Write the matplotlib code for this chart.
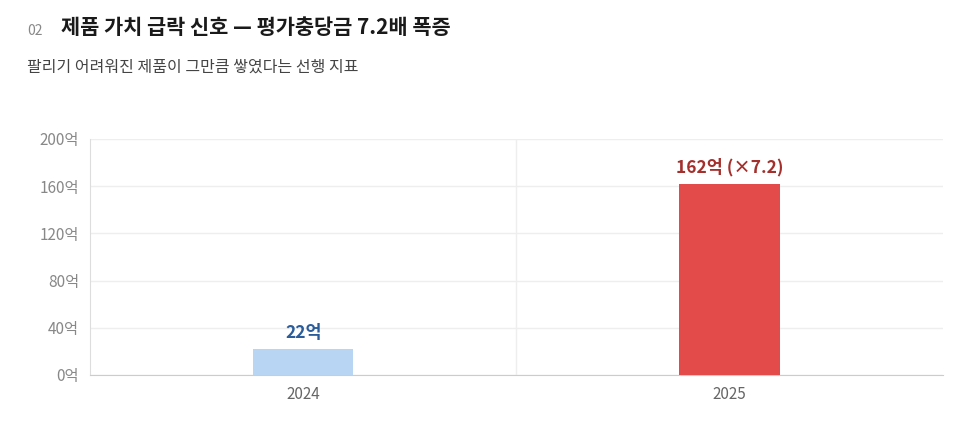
import matplotlib.pyplot as plt
import numpy as np

plt.rcParams['font.family'] = ['Noto Sans CJK KR', 'DejaVu Sans']

# data
years = ['2024', '2025']
values = [22, 162]
labels = ['22억', '162억 (×7.2)']
bar_colors = ['#b8d5f3', '#e24b4a']
label_colors = ['#2b5d9b', '#a3302d']
yticks = [0, 40, 80, 120, 160, 200]

fig = plt.figure(figsize=(9.58, 4.3), dpi=100)
ax = fig.add_axes([0.094, 0.128, 0.890, 0.549])

x = np.arange(len(years))
ax.bar(x, values, width=0.235, color=bar_colors, zorder=3)
for xi, v, t, c in zip(x, values, labels, label_colors):
    ax.text(xi, v + 6, t, ha='center', va='bottom', fontsize=12.5,
            fontweight='bold', color=c)

ax.set_xlim(-0.5, 1.5)
ax.set_ylim(0, 200)
ax.set_xticks(x)
ax.set_xticklabels(years, fontsize=11, color='#666666')
ax.set_yticks(yticks)
ax.set_yticklabels([f'{t}억' for t in yticks], fontsize=11, color='#888888')
ax.tick_params(length=0, pad=8)
ax.grid(axis='y', color='#eeeeee', linewidth=1, zorder=0)
ax.axvline(0.5, color='#eeeeee', linewidth=1, zorder=0)
for s in ['top', 'right']:
    ax.spines[s].set_visible(False)
ax.spines['left'].set_color('#dddddd')
ax.spines['bottom'].set_color('#cccccc')

fig.text(0.028, 0.928, '02', fontsize=10, color='#888888', va='center')
fig.text(0.064, 0.935, '제품 가치 급락 신호 — 평가충당금 7.2배 폭증', fontsize=15,
         fontweight='bold', color='#1a1a1a', va='center')
fig.text(0.028, 0.843, '팔리기 어려워진 제품이 그만큼 쌓였다는 선행 지표', fontsize=11.5,
         color='#444444', va='center')

fig.savefig('out.png', dpi=100)
